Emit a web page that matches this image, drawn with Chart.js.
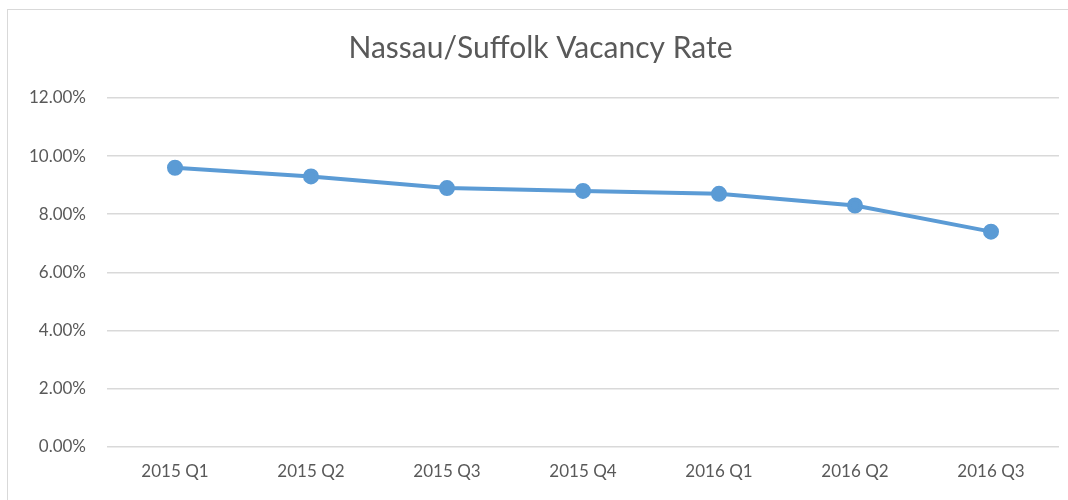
<!DOCTYPE html>
<html>
<head>
<meta charset="utf-8">
<script src="https://cdn.jsdelivr.net/npm/chart.js@4"></script>
<style>
  html, body { margin: 0; padding: 0; background: #fff; }
  #frame {
    position: absolute; left: 7px; top: 9px;
    width: 1061px; height: 491px;
    border-left: 1px solid #d9d9d9; border-top: 1px solid #d9d9d9;
  }
  #wrap { position: absolute; left: 0; top: 0; width: 1061px; height: 491px; }
</style>
</head>
<body>
<div id="frame"><div id="wrap"><canvas id="chart"></canvas></div></div>
<script>
const quarters = ['2015 Q1', '2015 Q2', '2015 Q3', '2015 Q4', '2016 Q1', '2016 Q2', '2016 Q3'];
const vacancyRate = [9.6, 9.3, 8.9, 8.8, 8.7, 8.3, 7.4];
const yTicks = [0, 2, 4, 6, 8, 10, 12];

const textColor = '#595959';
const font = "Lato, 'Open Sans', sans-serif";

const ctx = document.getElementById('chart').getContext('2d');
new Chart(ctx, {
  type: 'line',
  data: {
    labels: quarters,
    datasets: [{
      label: 'Vacancy Rate',
      data: vacancyRate,
      borderColor: '#5b9bd5',
      backgroundColor: '#5b9bd5',
      borderWidth: 4,
      pointRadius: 6,
      pointHoverRadius: 6,
      tension: 0,
    }],
  },
  options: {
    responsive: true,
    maintainAspectRatio: false,
    animation: false,
    layout: { padding: { top: 0, right: 4, bottom: 4, left: 8 } },
    plugins: {
      legend: { display: false },
      tooltip: { enabled: false },
      title: {
        display: true,
        text: 'Nassau/Suffolk Vacancy Rate',
        color: textColor,
        font: { family: font, size: 30, weight: 'normal' },
        padding: { top: 20, bottom: 32 },
      },
    },
    scales: {
      x: {
        offset: true,
        grid: { display: false, drawTicks: false },
        border: { display: false },
        ticks: { color: textColor, font: { family: font, size: 17 }, padding: 15 },
      },
      y: {
        min: 0,
        max: 12,
        afterBuildTicks: (axis) => { axis.ticks = yTicks.map(v => ({ value: v })); },
        afterFit: (axis) => { axis.width = 91; },
        grid: { color: '#d9d9d9', lineWidth: 1.5, drawTicks: false },
        border: { display: false },
        ticks: {
          color: textColor,
          font: { family: font, size: 17 },
          padding: 21,
          callback: (v) => v.toFixed(2) + '%',
        },
      },
    },
  },
});
</script>
</body>
</html>
